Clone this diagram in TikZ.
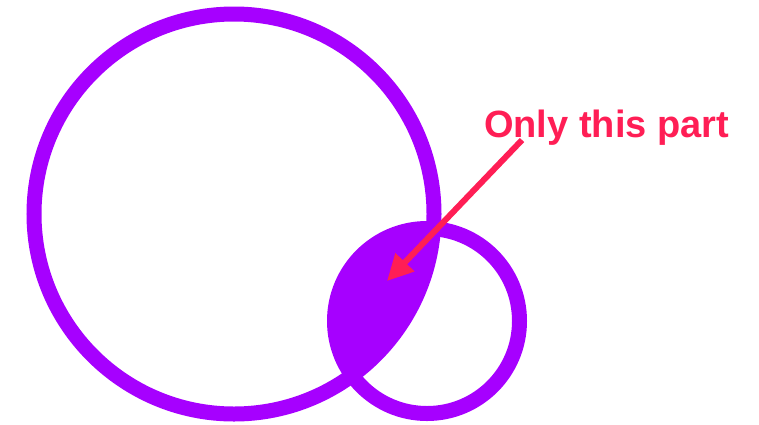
\documentclass[tikz,border=0pt]{standalone}
\usepackage{fontspec}
\setmainfont{Liberation Sans}
\usetikzlibrary{arrows.meta}

\definecolor{ringviolet}{RGB}{166,0,255}
\definecolor{notered}{RGB}{255,30,85}

\begin{document}
\begin{tikzpicture}[
  x=1pt, y=-1pt,
  ring/.style={draw=ringviolet, line width=15pt},
  note/.style={text=notered, font=\bfseries\fontsize{38}{40}\selectfont, inner sep=0pt},
  pointer/.style={draw=notered, line width=6pt, -{Triangle[length=26pt, width=25pt]}}
]
\useasboundingbox (0,0) rectangle (759,424);

% centres of the two circles
\coordinate (bigc) at (234,214);
\coordinate (smallc) at (427,321);

% overlap of the two discs
\begin{scope}
  \clip (bigc) circle (200);
  \fill[ringviolet] (smallc) circle (92.5);
\end{scope}

% the rings
\draw[ring] (bigc) circle (200);
\draw[ring] (smallc) circle (92.5);

% label and arrow
\node[note, anchor=base west] (label) at (484,137) {Only this part};
\coordinate (tail) at (522,140);
\coordinate (tip) at (387,281);
\draw[pointer] (tail) -- (tip);

\end{tikzpicture}
\end{document}
